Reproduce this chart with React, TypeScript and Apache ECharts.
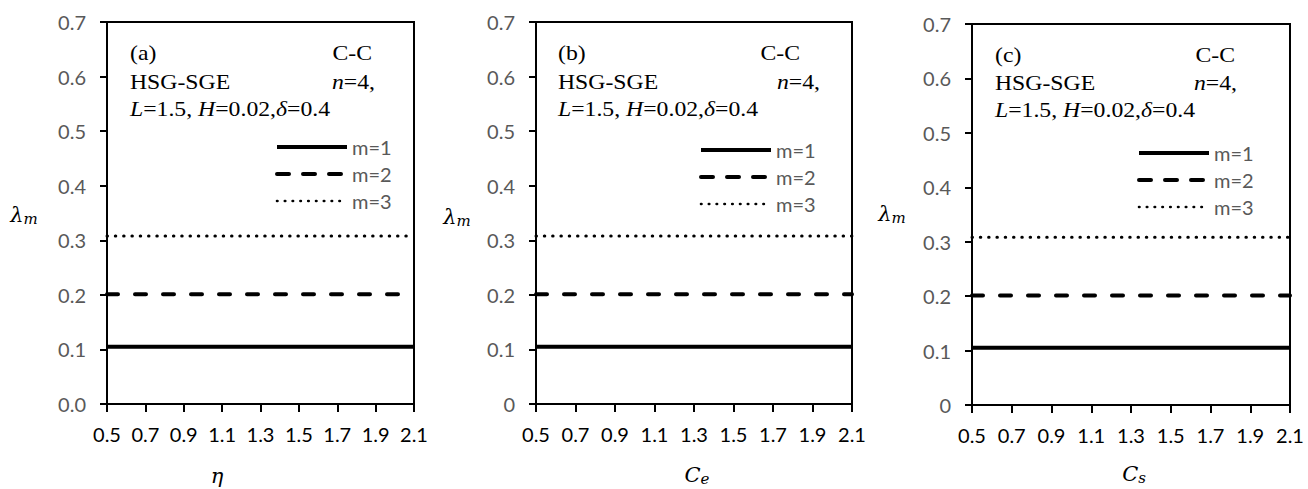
import React, { useEffect, useRef } from "react";
import * as echarts from "echarts";

// x positions (tick values) shared by the three panels
const xValues = [0.5, 0.7, 0.9, 1.1, 1.3, 1.5, 1.7, 1.9, 2.1];

// panel (a): eta
const etaM1 = [0.105, 0.105, 0.105, 0.105, 0.105, 0.105, 0.105, 0.105, 0.105];
const etaM2 = [0.201, 0.201, 0.201, 0.201, 0.201, 0.201, 0.201, 0.201, 0.201];
const etaM3 = [0.308, 0.308, 0.308, 0.308, 0.308, 0.308, 0.308, 0.308, 0.308];
// panel (b): Ce
const ceM1 = [0.105, 0.105, 0.105, 0.105, 0.105, 0.105, 0.105, 0.105, 0.105];
const ceM2 = [0.201, 0.201, 0.201, 0.201, 0.201, 0.201, 0.201, 0.201, 0.201];
const ceM3 = [0.308, 0.308, 0.308, 0.308, 0.308, 0.308, 0.308, 0.308, 0.308];
// panel (c): Cs
const csM1 = [0.105, 0.105, 0.105, 0.105, 0.105, 0.105, 0.105, 0.105, 0.105];
const csM2 = [0.201, 0.201, 0.201, 0.201, 0.201, 0.201, 0.201, 0.201, 0.201];
const csM3 = [0.308, 0.308, 0.308, 0.308, 0.308, 0.308, 0.308, 0.308, 0.308];

const seriesNames = ["m=1", "m=2", "m=3"];
const panelLetters = ["(a)", "(b)", "(c)"];

const SANS = "Lato";
const SERIF = "Liberation Serif";

export default function App() {
  const ref = useRef<HTMLDivElement>(null);

  useEffect(() => {
    if (!ref.current) return;
    const chart = echarts.init(ref.current, undefined, { renderer: "svg" });

    const grids = [
      { left: 107, top: 22, width: 307, height: 382 },
      { left: 536, top: 22, width: 316, height: 382 },
      { left: 972, top: 24, width: 318, height: 381 },
    ];
    const panelData = [
      [etaM1, etaM2, etaM3],
      [ceM1, ceM2, ceM3],
      [csM1, csM2, csM3],
    ];
    const lineStyles: any[] = [
      { color: "#000", width: 4, type: "solid", cap: "butt" },
      { color: "#000", width: 4, type: [11, 17], cap: "round" },
      { color: "#000", width: 3, type: [0.5, 7.8], cap: "round" },
    ];
    const legendLineStyles: any[] = [
      { color: "#000", width: 4, type: "solid", cap: "butt" },
      { color: "#000", width: 4, type: [12, 14], cap: "round" },
      { color: "#000", width: 2.6, type: [0.5, 7.3], cap: "round" },
    ];

    const series: any[] = [];
    panelData.forEach((pd, p) => {
      pd.forEach((vals, k) => {
        series.push({
          type: "line",
          name: seriesNames[k],
          xAxisIndex: p,
          yAxisIndex: p,
          symbol: "none",
          showSymbol: false,
          color: "#000",
          itemStyle: { color: "#000" },
          lineStyle: lineStyles[k],
          data: xValues.map((x, j) => [x, vals[j]]),
          z: 3,
        });
      });
    });

    const legendPos = [
      { left: 275, top: 137 },
      { left: 699, top: 140 },
      { left: 1137, top: 143 },
    ];

    const annot = [
      { lx: 130, rx: 372, rx2: 375, y: [53, 82, 109] },
      { lx: 558, rx: 800, rx2: 820, y: [53, 82, 109] },
      { lx: 995, rx: 1235, rx2: 1237, y: [55, 83, 110] },
    ];

    const FS = 21;
    const SX = 1.13;
    const graphic: any[] = [];
    annot.forEach((a, p) => {
      const base = { fontFamily: SERIF, fontSize: FS, fill: "#000" };
      const italic = { i: { fontFamily: SERIF, fontSize: FS, fontStyle: "italic" } };
      graphic.push({
        type: "text", x: a.lx, y: a.y[0], scaleX: SX,
        style: { ...base, text: panelLetters[p], textVerticalAlign: "middle" },
      });
      graphic.push({
        type: "text", x: a.rx, y: a.y[0], scaleX: SX,
        style: { ...base, text: "C-C", textAlign: "right", textVerticalAlign: "middle" },
      });
      graphic.push({
        type: "text", x: a.lx, y: a.y[1], scaleX: SX,
        style: { ...base, text: "HSG-SGE", textVerticalAlign: "middle" },
      });
      graphic.push({
        type: "text", x: a.rx2, y: a.y[1], scaleX: SX,
        style: {
          ...base,
          text: "{i|n}=4,",
          textAlign: "right",
          textVerticalAlign: "middle",
          rich: italic,
        },
      });
      graphic.push({
        type: "text", x: a.lx, y: a.y[2], scaleX: SX,
        style: {
          ...base,
          text: "{i|L}=1.5, {i|H}=0.02,{i|δ}=0.4",
          textVerticalAlign: "middle",
          rich: italic,
        },
      });
    });

    const mathRich = {
      a: { fontFamily: "DejaVu Serif", fontStyle: "italic", fontSize: 21, color: "#000" },
      s: { fontFamily: "DejaVu Serif", fontStyle: "italic", fontSize: 15, color: "#000", padding: [8, 0, 0, 0] },
    };
    const yNamePos = [
      { x: 24, y: 215 },
      { x: 457, y: 217 },
      { x: 892, y: 214 },
    ];
    yNamePos.forEach((pos) => {
      graphic.push({
        type: "text", x: pos.x, y: pos.y,
        style: { text: "{a|λ}{s|m}", rich: mathRich, textAlign: "center", textVerticalAlign: "middle" },
      });
    });
    const xNames = [
      { x: 217, y: 476, t: "{a|η}" },
      { x: 697, y: 475, t: "{a|C}{s|e}" },
      { x: 1134, y: 474, t: "{a|C}{s|s}" },
    ];
    xNames.forEach((n) => {
      graphic.push({
        type: "text", x: n.x, y: n.y,
        style: { text: n.t, rich: mathRich, textAlign: "center", textVerticalAlign: "middle" },
      });
    });

    chart.setOption({
      animation: false,
      backgroundColor: "#fff",
      grid: grids.map((g) => ({
        ...g,
        show: true,
        borderColor: "#000",
        borderWidth: 2,
        containLabel: false,
      })),
      xAxis: grids.map((_, i) => ({
        type: "value",
        gridIndex: i,
        min: 0.5,
        max: 2.1,
        interval: 0.2,
        axisLine: { show: true, onZero: false, lineStyle: { color: "#000", width: 2 } },
        axisTick: { show: true, inside: false, length: 8, lineStyle: { color: "#000", width: 2 } },
        splitLine: { show: false },
        axisLabel: {
          color: "#000",
          fontFamily: SANS,
          fontSize: 20,
          margin: 20,
          formatter: (v: number) => v.toFixed(1),
        },
      })),
      yAxis: grids.map((_, i) => ({
        type: "value",
        gridIndex: i,
        min: 0,
        max: 0.7,
        interval: 0.1,
        axisLine: { show: true, lineStyle: { color: "#000", width: 2 } },
        axisTick: { show: true, inside: false, length: 7, lineStyle: { color: "#000", width: 2 } },
        splitLine: { show: false },
        axisLabel: {
          color: "#595959",
          fontFamily: SANS,
          fontSize: 20,
          margin: 21,
          formatter: (v: number) => (i > 0 && v === 0 ? "0" : v.toFixed(1)),
        },
      })),
      legend: legendPos.map((lp) => ({
        ...lp,
        orient: "vertical",
        data: seriesNames.map((n, k) => ({ name: n, lineStyle: legendLineStyles[k] })),
        itemWidth: 70,
        itemHeight: 14,
        itemGap: 7,
        padding: 0,
        selectedMode: false,
        itemStyle: { color: "transparent", borderColor: "transparent", borderWidth: 0, opacity: 0 },
        textStyle: { color: "#595959", fontFamily: SANS, fontSize: 20, lineHeight: 20, padding: [0, 0, 0, 0] },
      })),
      series,
      graphic,
    });

    return () => chart.dispose();
  }, []);

  return (
    <div
      ref={ref}
      style={{ position: "fixed", left: 0, top: 0, width: 1308, height: 489, background: "#fff" }}
    />
  );
}
